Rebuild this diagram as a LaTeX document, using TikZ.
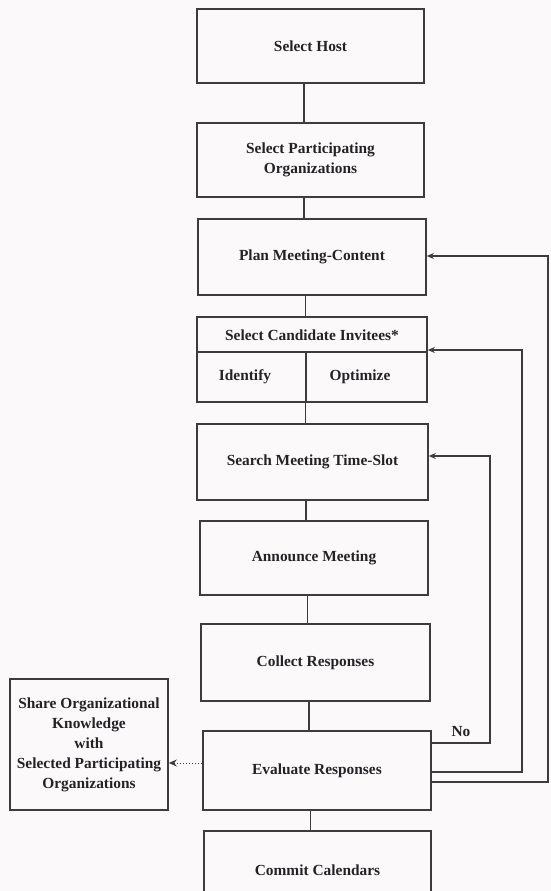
\documentclass[tikz,border=0pt]{standalone}
\usepackage{fontspec}
\setmainfont{Liberation Serif}
\usetikzlibrary{arrows.meta}
\definecolor{paper}{RGB}{252,249,251}
\definecolor{ink}{RGB}{58,60,62}
\definecolor{txt}{RGB}{35,35,38}
\tikzset{
  stage/.style={draw=ink, line width=1.6pt, inner sep=0pt, align=center,
    font=\bfseries\fontsize{15.4}{20}\selectfont, text=txt},
  label/.style={inner sep=0pt, font=\bfseries\fontsize{15.4}{20}\selectfont, text=txt},
  link/.style={draw=ink, line width=1.4pt},
  loop/.style={link, -{Stealth[length=7pt,width=6pt]}},
  share/.style={draw=ink, line width=1pt, dotted, -{Stealth[length=8pt,width=7pt]}},
}
\begin{document}
\begin{tikzpicture}[x=1pt,y=-1pt]
  \fill[paper] (0,0) rectangle (551,891);
  \useasboundingbox (0,0) rectangle (551,891);
  \clip (0,0) rectangle (551,891);

  % main stages
  \node[stage, minimum width=227pt, minimum height=74pt] (host) at (310.5,46) {Select Host};
  \node[stage, minimum width=227pt, minimum height=74pt] (part) at (310.5,160) {Select Participating\\Organizations};
  \node[stage, minimum width=228pt, minimum height=76pt] (plan) at (312,257) {Plan Meeting-Content};
  \node[stage, minimum width=230pt, minimum height=85pt] (cand) at (312,359.5) {};
  \node[stage, minimum width=231pt, minimum height=76pt] (search) at (312.5,462) {Search Meeting Time-Slot};
  \node[stage, minimum width=228pt, minimum height=74pt] (announce) at (314,558) {Announce Meeting};
  \node[stage, minimum width=229pt, minimum height=77pt] (collect) at (315.5,662.5) {Collect Responses};
  \node[stage, minimum width=228pt, minimum height=79pt] (eval) at (317,770.5) {Evaluate Responses};
  \node[stage, minimum width=227pt, minimum height=79pt] (commit) at (317.5,870.5) {Commit Calendars};
  \node[stage, minimum width=158pt, minimum height=131pt] (sharebox) at (89,744.5)
    {Share Organizational\\Knowledge\\with\\Selected Participating\\Organizations};

  % candidate-invitee box with its two sub-steps
  \coordinate (split) at (306,352);
  \draw[link] (cand.west |- split) -- (cand.east |- split);
  \draw[link] (split) -- (split |- cand.south);
  \node[label] (candtitle) at (312,335) {Select Candidate Invitees*};
  \node[label] (identify) at (245,377) {Identify};
  \node[label] (optimize) at (360,377) {Optimize};

  % sequence connectors
  \foreach \a/\b in {host/part, part/plan, plan/cand, cand/search, search/announce,
                     announce/collect, collect/eval, eval/commit}
    \draw[link] ([xshift=-6.5pt]\a.south) coordinate (top) -- (top |- \b.north);

  % feedback loops out of the evaluation step
  \coordinate (innerA) at (490,743);
  \coordinate (innerB) at (490,456);
  \coordinate (midA) at (522,772);
  \coordinate (midB) at (522,350);
  \coordinate (outA) at (548,782);
  \coordinate (outB) at (548,256);
  \draw[loop] (eval.east |- innerA) -- (innerA) -- (innerB) -- (search.east |- innerB);
  \draw[loop] (eval.east |- midA) -- (midA) -- (midB) -- (cand.east |- midB);
  \draw[loop] (eval.east |- outA) -- (outA) -- (outB) -- (plan.east |- outB);
  \node[label] (no) at (461,732) {No};

  % knowledge sharing
  \coordinate (shareY) at (0,763);
  \draw[share] (eval.west |- shareY) -- (sharebox.east |- shareY);
\end{tikzpicture}
\end{document}
